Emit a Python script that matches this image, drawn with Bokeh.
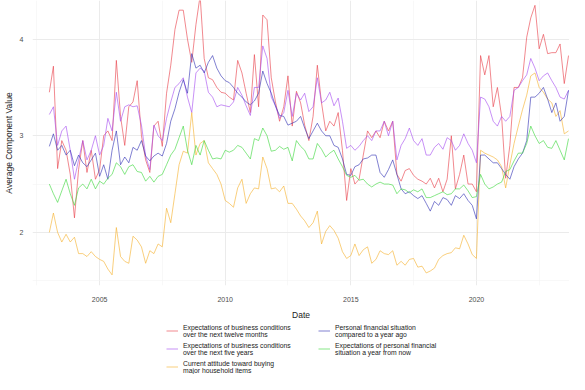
import pandas as pd
from bokeh.plotting import figure
from bokeh.layouts import column
from bokeh.models import Range1d, FixedTicker, DatetimeTickFormatter, Legend, LegendItem
from bokeh.embed import file_html
from bokeh.resources import INLINE

# bimonthly observations, Jan 2003 .. Sep 2023
dates = pd.date_range("2003-01-01", periods=125, freq="2MS")

bus12 = [  # Expectations of business conditions over the next twelve months
    3.45, 3.72, 2.66, 2.95, 2.85, 2.60,
    2.15, 2.65, 2.95, 2.62, 2.85, 2.55,
    2.65, 3.00, 3.05, 2.95, 3.78, 3.20,
    2.90, 3.30, 3.35, 3.57, 3.00, 2.75,
    2.62, 3.10, 3.15, 2.89, 3.44, 3.73,
    4.10, 4.30, 4.30, 4.00, 3.76, 4.15,
    4.45, 3.80, 3.60, 3.58, 3.50, 3.45,
    3.44, 3.40, 3.37, 3.78, 3.65, 3.44,
    3.24, 3.84, 3.30, 4.25, 4.20, 3.60,
    3.35, 3.15, 3.30, 3.62, 3.10, 3.46,
    3.34, 3.11, 2.95, 3.20, 3.73, 3.34,
    3.05, 3.15, 3.10, 3.24, 2.85, 2.33,
    2.66, 2.50, 2.55, 2.80, 3.05, 2.98,
    3.05, 2.98, 3.15, 3.05, 3.15, 2.60,
    2.53, 2.64, 2.66, 2.59, 2.55, 2.53,
    2.50, 2.56, 2.46, 2.56, 2.42, 2.55,
    3.00, 2.45, 2.60, 2.80, 2.50, 2.50,
    2.42, 3.83, 3.63, 3.83, 3.30, 3.50,
    3.20, 2.56, 2.90, 3.50, 3.50, 3.60,
    4.02, 4.22, 4.35, 3.90, 4.05, 3.85,
    3.86, 3.86, 3.95, 3.54, 3.83,
]
bus5 = [  # Expectations of business conditions over the next five years
    3.22, 3.30, 2.90, 3.05, 3.10, 2.85,
    2.55, 2.75, 2.95, 2.75, 2.85, 3.00,
    2.80, 2.90, 3.18, 3.05, 3.45, 3.15,
    3.30, 3.32, 3.30, 3.31, 3.11, 2.79,
    2.65, 3.11, 3.00, 2.95, 3.18, 3.35,
    3.50, 3.54, 3.60, 3.40, 3.24, 3.65,
    3.70, 3.67, 3.45, 3.40, 3.30, 3.32,
    3.31, 3.30, 3.35, 3.50, 3.42, 3.31,
    3.21, 3.50, 3.50, 3.93, 3.80, 3.40,
    3.31, 3.18, 3.24, 3.47, 3.20, 3.44,
    3.37, 3.44, 3.25, 3.30, 3.60, 3.34,
    3.37, 3.45, 3.31, 3.39, 3.15, 2.87,
    2.90, 2.85, 2.89, 2.95, 3.00, 2.95,
    3.05, 3.05, 3.15, 3.00, 3.15, 2.75,
    2.90, 2.97, 3.08, 2.95, 2.90, 2.97,
    2.80, 2.80, 2.88, 2.92, 2.86, 2.98,
    2.95, 2.85, 2.90, 3.02, 2.92, 2.85,
    2.72, 3.40, 3.38, 3.30, 3.15, 3.10,
    3.20, 3.15, 3.20, 3.47, 3.50, 3.57,
    3.63, 3.80, 3.70, 3.57, 3.62, 3.65,
    3.57, 3.50, 3.40, 3.38, 3.47,
]
buying = [  # Current attitude toward buying major household items
    2.00, 2.20, 2.00, 1.90, 1.98, 1.90,
    1.95, 1.78, 1.78, 1.75, 1.80, 1.75,
    1.72, 1.70, 1.62, 1.56, 2.05, 1.75,
    1.70, 1.68, 1.96, 1.92, 1.85, 1.68,
    1.81, 1.78, 1.88, 1.85, 2.25, 2.10,
    2.40, 2.70, 2.84, 2.82, 3.24, 2.80,
    2.92, 2.95, 2.72, 2.66, 2.60, 2.50,
    2.33, 2.30, 2.26, 2.46, 2.55, 2.30,
    2.40, 2.46, 2.45, 2.78, 2.66, 2.45,
    2.46, 2.42, 2.48, 2.30, 2.30, 2.24,
    2.17, 2.12, 2.05, 2.10, 2.22, 1.88,
    2.01, 2.07, 2.02, 1.94, 1.80, 1.73,
    1.76, 1.88, 1.76, 1.82, 1.85, 1.68,
    1.72, 1.81, 1.78, 1.77, 1.81, 1.66,
    1.70, 1.66, 1.72, 1.73, 1.64, 1.65,
    1.58, 1.60, 1.63, 1.72, 1.76, 1.78,
    1.79, 1.84, 1.83, 1.97, 1.88, 1.77,
    1.73, 2.85, 2.82, 2.80, 2.78, 2.75,
    2.68, 2.46, 2.70, 2.92, 3.10, 3.27,
    3.42, 3.62, 3.65, 3.50, 3.45, 3.38,
    3.34, 3.20, 3.26, 3.02, 3.05,
]
pers_now = [  # Personal financial situation compared to a year ago
    2.89, 3.02, 2.85, 2.90, 2.80, 2.85,
    2.69, 2.80, 2.72, 2.68, 2.75, 2.82,
    2.58, 2.70, 2.55, 2.85, 3.05, 2.70,
    2.78, 2.72, 2.88, 2.85, 2.95, 2.79,
    2.74, 2.79, 2.82, 2.79, 2.92, 3.15,
    3.28, 3.45, 3.58, 3.44, 3.85, 3.70,
    3.73, 3.65, 3.76, 3.83, 3.70, 3.62,
    3.57, 3.55, 3.50, 3.44, 3.40, 3.35,
    3.32, 3.36, 3.44, 3.67, 3.54, 3.44,
    3.31, 3.21, 3.20, 3.11, 3.13, 3.15,
    3.20, 3.08, 2.97, 3.05, 3.13, 3.05,
    3.00, 3.00, 2.90, 2.88, 2.76, 2.60,
    2.59, 2.68, 2.70, 2.76, 2.77, 2.80,
    2.80, 2.62, 2.57, 2.65, 2.75, 2.60,
    2.45, 2.40, 2.42, 2.38, 2.35, 2.38,
    2.30, 2.22, 2.32, 2.28, 2.36, 2.34,
    2.28, 2.38, 2.35, 2.40, 2.33, 2.28,
    2.14, 2.80, 2.80, 2.76, 2.72, 2.72,
    2.66, 2.60, 2.55, 2.68, 2.76, 2.82,
    2.95, 3.40, 3.40, 3.44, 3.50, 3.38,
    3.24, 3.34, 3.15, 3.20, 3.47,
]
pers_next = [  # Expectations of personal financial situation a year from now
    2.50, 2.40, 2.31, 2.43, 2.55, 2.40,
    2.28, 2.46, 2.50, 2.45, 2.55, 2.45,
    2.53, 2.50, 2.56, 2.60, 2.72, 2.68,
    2.60, 2.68, 2.70, 2.63, 2.62, 2.53,
    2.58, 2.52, 2.58, 2.60, 2.70, 2.80,
    2.86, 2.98, 3.10, 2.85, 2.70, 2.90,
    2.80, 2.95, 2.85, 2.76, 2.77, 2.76,
    2.85, 2.83, 2.85, 2.90, 2.88, 2.82,
    2.76, 2.97, 2.95, 3.08, 3.00, 2.84,
    2.85, 2.89, 2.86, 2.88, 2.74, 2.95,
    2.89, 2.85, 2.76, 2.76, 2.92, 2.86,
    2.78, 2.82, 2.85, 2.76, 2.68, 2.59,
    2.57, 2.59, 2.54, 2.55, 2.50, 2.47,
    2.50, 2.52, 2.50, 2.50, 2.49, 2.40,
    2.45, 2.44, 2.41, 2.44, 2.42, 2.45,
    2.36, 2.36, 2.38, 2.40, 2.42, 2.39,
    2.40, 2.45, 2.45, 2.49, 2.43, 2.36,
    2.37, 2.60, 2.50, 2.45, 2.47, 2.50,
    2.52, 2.63, 2.65, 2.74, 2.82, 2.82,
    2.92, 3.10, 3.00, 2.92, 2.95, 2.88,
    2.87, 2.95, 2.85, 2.75, 2.97,
]

labels = [
    "Expectations of business conditions\nover the next twelve months",
    "Expectations of business conditions\nover the next five years",
    "Current attitude toward buying\nmajor household items",
    "Personal financial situation\ncompared to a year ago",
    "Expectations of personal financial\nsituation a year from now",
]
series = [bus12, bus5, buying, pers_now, pers_next]
colors = ["#E8404A", "#A64DF0", "#F5B22E", "#3434B4", "#3ED83E"]

major_years = [2005, 2010, 2015, 2020]
minor_dates = ["2002-07-01", "2007-07-01", "2012-07-01", "2017-07-01", "2022-07-01"]

FONT = "Liberation Sans"
X_RANGE = (pd.Timestamp("2002-05-01"), pd.Timestamp("2023-09-15"))
ALPHA = 0.62

p = figure(width=569, height=322, x_axis_type="datetime",
           x_range=Range1d(*X_RANGE), y_range=Range1d(1.45, 4.40),
           toolbar_location=None, output_backend="svg",
           min_border_left=0, min_border_right=0, min_border_top=0, min_border_bottom=0)
p.outline_line_color = None

ms = lambda s: pd.Timestamp(s).timestamp() * 1000
p.xaxis.ticker = FixedTicker(ticks=[ms(f"{y}-01-01") for y in major_years],
                             minor_ticks=[ms(d) for d in minor_dates])
p.xaxis.formatter = DatetimeTickFormatter(years="%Y", months="%Y", days="%Y",
                                          hours="%Y", minutes="%Y", seconds="%Y")
p.yaxis.ticker = FixedTicker(ticks=[2, 3, 4], minor_ticks=[1.5, 2.5, 3.5, 4.5])

for ax in (p.xaxis[0], p.yaxis[0]):
    ax.axis_line_color = None
    ax.major_tick_line_color = None
    ax.minor_tick_line_color = None
    ax.major_label_text_font = FONT
    ax.major_label_text_font_size = "7px"
    ax.major_label_text_color = "#4d4d4d"
    ax.axis_label_text_font = FONT
    ax.axis_label_text_font_size = "8.5px"
    ax.axis_label_text_font_style = "normal"
    ax.axis_label_text_color = "#1a1a1a"
p.xaxis.axis_label = "Date"
p.yaxis.axis_label = "Average Component Value"
p.xaxis.major_label_standoff = 5
p.xaxis.axis_label_standoff = 5
p.yaxis.major_label_standoff = 3
p.yaxis.axis_label_standoff = 3

for g in (p.xgrid[0], p.ygrid[0]):
    g.grid_line_color = "#ebebeb"
    g.grid_line_width = 1
    g.minor_grid_line_color = "#f3f3f3"
    g.minor_grid_line_width = 0.6

for vals, col in zip(series, colors):
    p.line(dates, vals, line_color=col, line_width=1.0, line_alpha=ALPHA)

# legend panel: same series drawn outside its visible range, only the legend shows
leg = figure(width=569, height=52, x_axis_type="datetime",
             x_range=Range1d(*X_RANGE), y_range=Range1d(10, 11),
             toolbar_location=None, output_backend="svg",
             x_axis_location=None, y_axis_location=None, min_border=0)
leg.outline_line_color = None
leg.grid.visible = False
items = []
for lab, vals, col in zip(labels, series, colors):
    r = leg.line(dates, vals, line_color=col, line_width=1.0, line_alpha=ALPHA)
    items.append(LegendItem(label=lab, renderers=[r]))

style = dict(label_text_font=FONT, label_text_font_size="6.8px",
             label_text_color="#1a1a1a", label_text_line_height=1.15,
             glyph_width=12, glyph_height=15, label_height=15,
             spacing=3, label_standoff=5, padding=0, margin=0,
             border_line_color=None, background_fill_alpha=0)
leg.add_layout(Legend(items=items[:3], location=(134, 0), **style), "center")
leg.add_layout(Legend(items=items[3:], location=(286, 18), **style), "center")

open("out.html", "w").write(file_html(column(p, leg), INLINE))
